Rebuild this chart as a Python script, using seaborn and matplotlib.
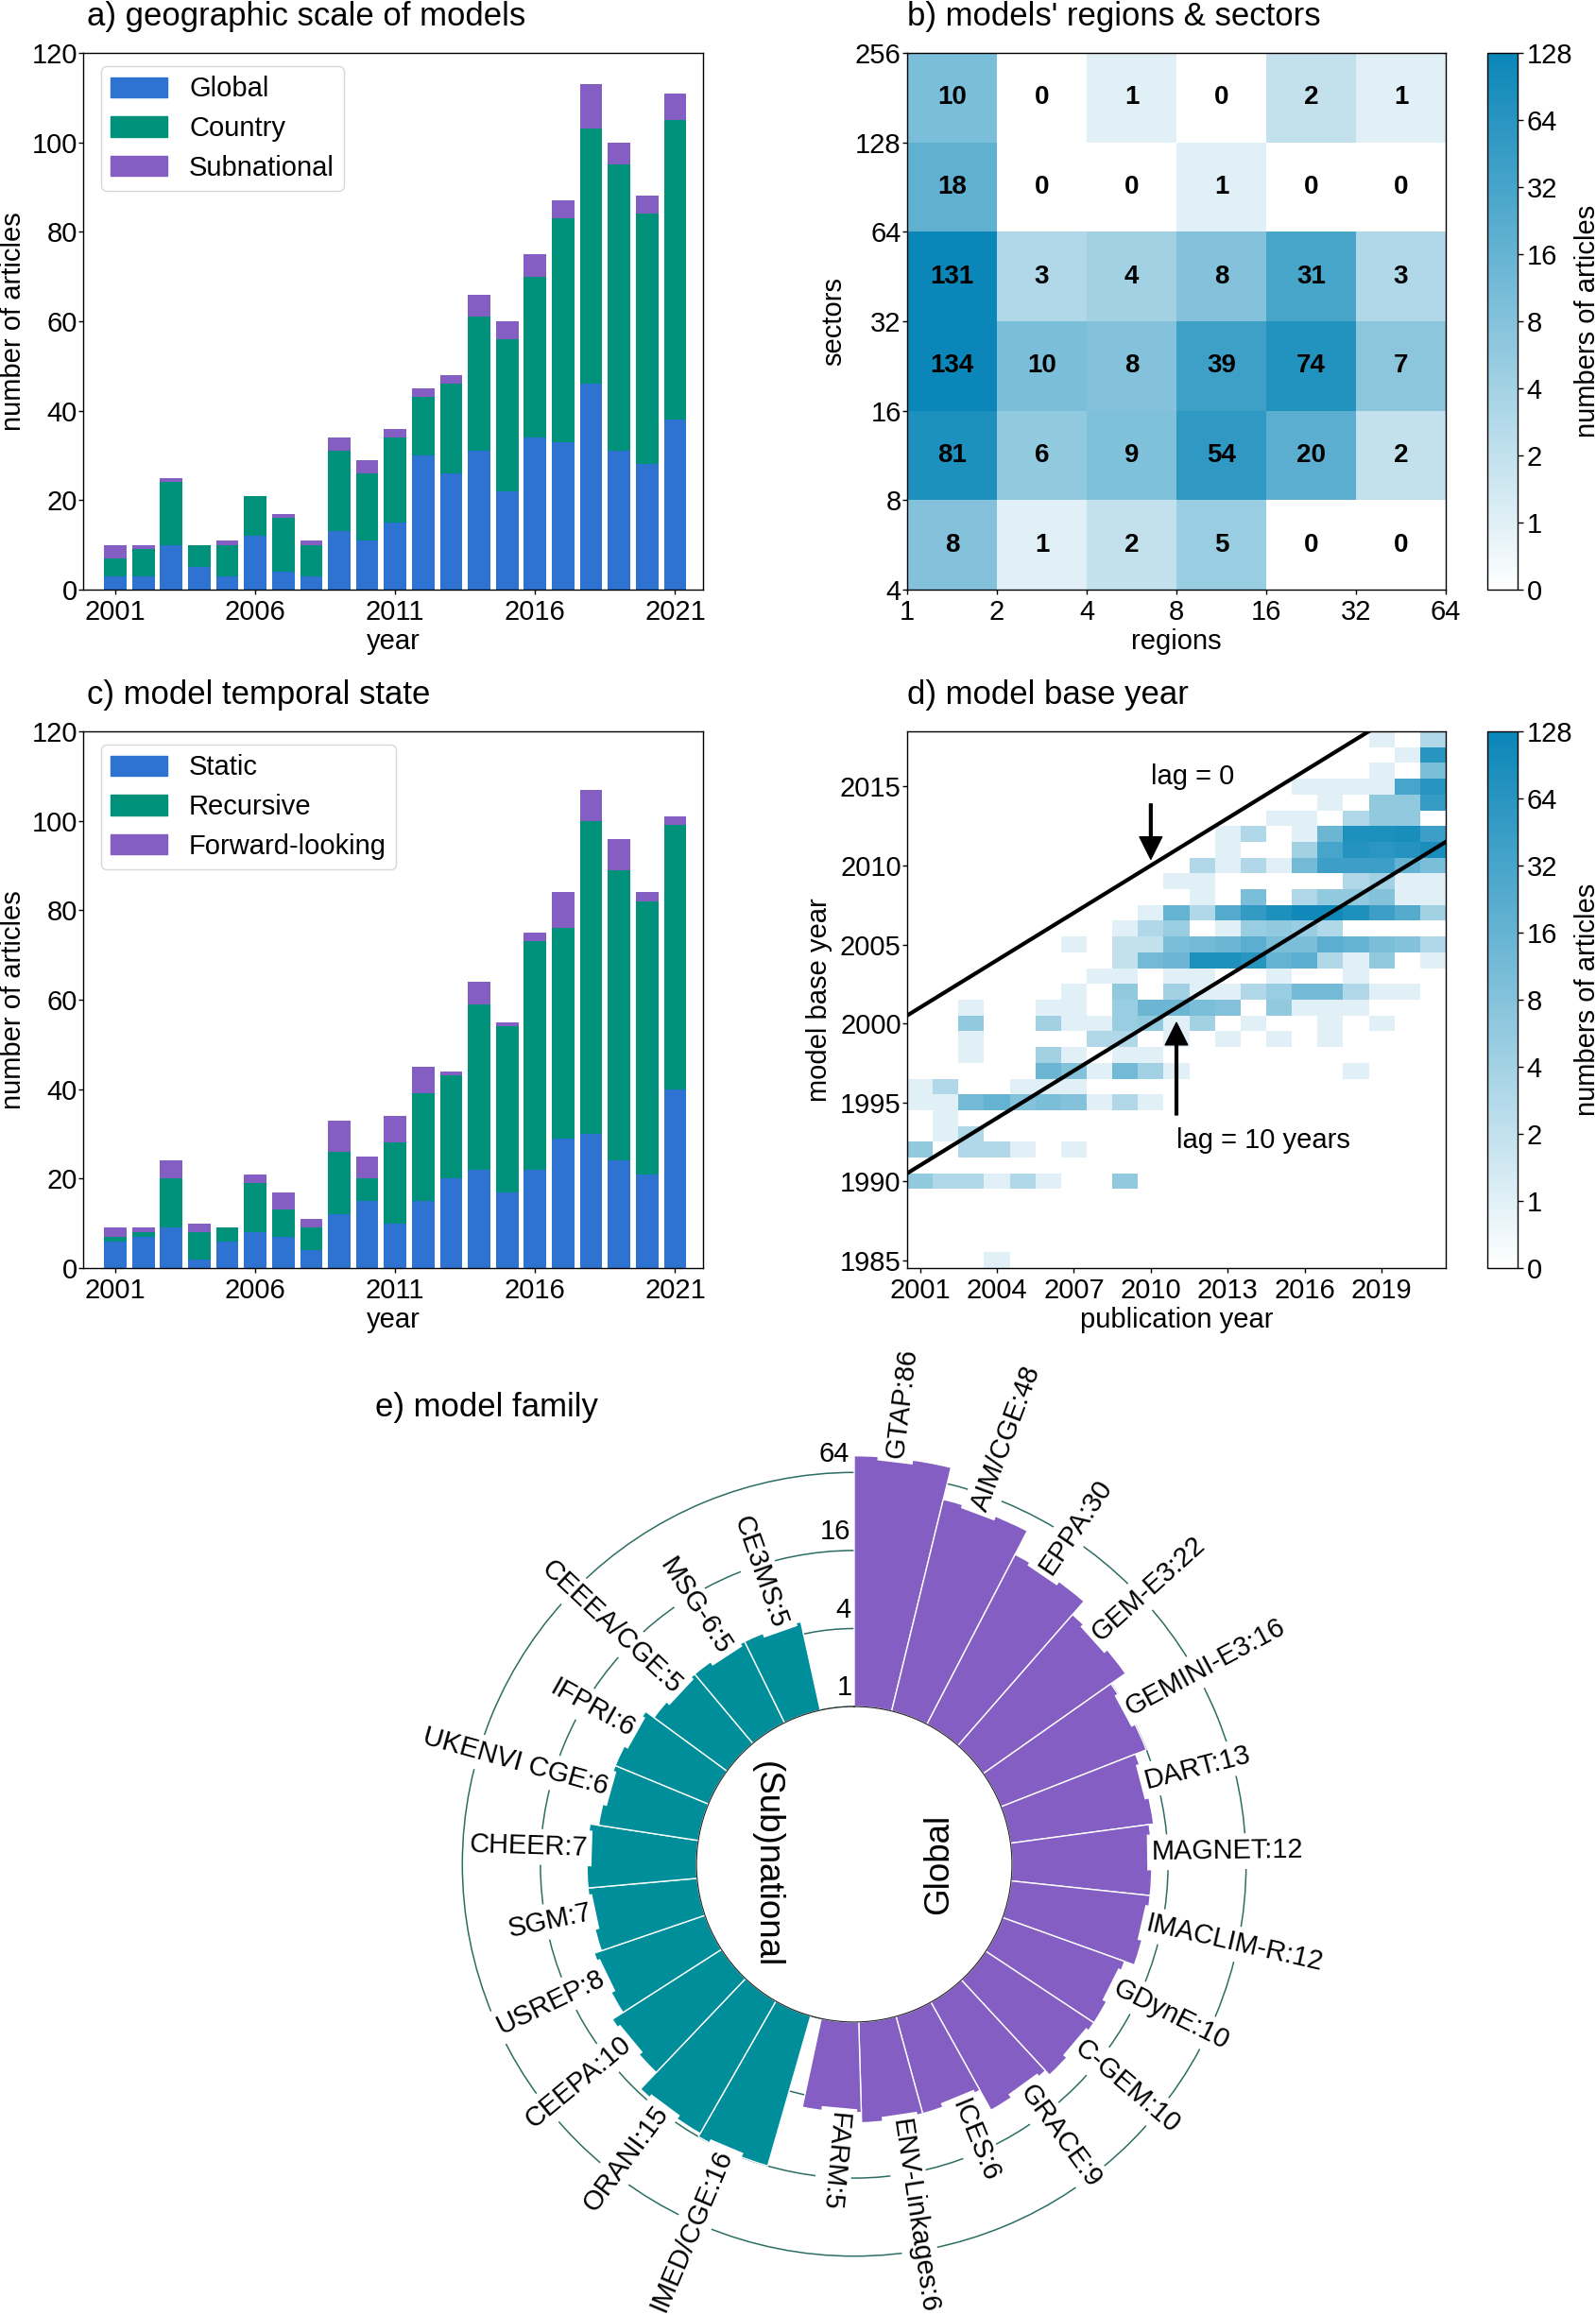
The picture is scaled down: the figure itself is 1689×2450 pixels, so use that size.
import numpy as np
import pandas as pd
import matplotlib
matplotlib.use("Agg")
import matplotlib.pyplot as plt
from matplotlib.colors import LinearSegmentedColormap, SymLogNorm
from matplotlib.patches import Patch
import seaborn as sns

sns.set_style("ticks")
plt.rcParams["font.family"] = ["Liberation Sans", "DejaVu Sans"]
plt.rcParams["font.size"] = 21
plt.rcParams["text.color"] = "black"
plt.rcParams["axes.labelcolor"] = "black"
plt.rcParams["xtick.color"] = "black"
plt.rcParams["ytick.color"] = "black"

W, H = 1689, 2450

# Panels a and c
years = list(range(2001, 2022))
geo_global = [3, 3, 10, 5, 3, 12, 4, 3, 13, 11, 15, 30, 26, 31, 22, 34, 33, 46, 31, 28, 38]
geo_country = [4, 6, 14, 5, 7, 9, 12, 7, 18, 15, 19, 13, 20, 30, 34, 36, 50, 57, 64, 56, 67]
geo_subnational = [3, 1, 1, 0, 1, 0, 1, 1, 3, 3, 2, 2, 2, 5, 4, 5, 4, 10, 5, 4, 6]
temp_static = [6, 7, 9, 2, 6, 8, 7, 4, 12, 15, 10, 15, 20, 22, 17, 22, 29, 30, 24, 21, 40]
temp_recursive = [1, 1, 11, 6, 3, 11, 6, 5, 14, 5, 18, 24, 23, 37, 37, 51, 47, 70, 65, 61, 59]
temp_forward = [2, 1, 4, 2, 0, 2, 4, 2, 7, 5, 6, 6, 1, 5, 1, 2, 8, 7, 7, 2, 2]

# Panel b, rows from the top (256 sectors) down
region_labels = ["1", "2", "4", "8", "16", "32", "64"]
sector_labels = ["256", "128", "64", "32", "16", "8", "4"]
region_sector = [
    [10, 0, 1, 0, 2, 1],
    [18, 0, 0, 1, 0, 0],
    [131, 3, 4, 8, 31, 3],
    [134, 10, 8, 39, 74, 7],
    [81, 6, 9, 54, 20, 2],
    [8, 1, 2, 5, 0, 0],
]

# Panel d: base year -> {publication year column: articles}, empty rows left out
base_year_cells = {
    2018: {18: 1, 20: 3},
    2017: {19: 1, 20: 64},
    2016: {18: 1, 20: 10},
    2015: {15: 1, 16: 1, 17: 1, 18: 1, 19: 32, 20: 64},
    2014: {16: 1, 18: 6, 19: 6, 20: 48},
    2013: {14: 1, 15: 1, 17: 3, 18: 6, 19: 6},
    2012: {12: 1, 13: 3, 15: 1, 16: 14, 17: 80, 18: 80, 19: 90, 20: 40},
    2011: {12: 1, 15: 4, 16: 32, 17: 70, 18: 60, 19: 70, 20: 90},
    2010: {11: 3, 12: 1, 13: 3, 14: 1, 15: 12, 16: 40, 17: 40, 18: 40, 19: 16, 20: 10},
    2009: {10: 1, 11: 1, 17: 3, 18: 4, 19: 1, 20: 1},
    2008: {11: 1, 13: 10, 15: 3, 16: 6, 17: 6, 18: 8, 19: 1, 20: 1},
    2007: {9: 1, 10: 16, 11: 3, 12: 24, 13: 50, 14: 80, 15: 110, 16: 110, 17: 80, 18: 40, 19: 24, 20: 4},
    2006: {8: 1, 9: 3, 10: 5, 12: 1, 13: 5, 14: 6, 15: 5, 16: 3},
    2005: {6: 1, 8: 2, 9: 2, 10: 10, 11: 12, 12: 14, 13: 20, 14: 10, 15: 10, 16: 20, 17: 16, 18: 10, 19: 8, 20: 3},
    2004: {8: 2, 9: 12, 10: 14, 11: 80, 12: 80, 13: 64, 14: 16, 15: 20, 16: 3, 17: 1, 18: 6, 20: 1},
    2003: {7: 1, 8: 1, 10: 1, 11: 1, 14: 1, 17: 1},
    2002: {6: 1, 8: 6, 10: 4, 11: 1, 12: 1, 13: 3, 14: 5, 15: 12, 16: 12, 17: 3, 18: 1, 19: 1},
    2001: {2: 1, 5: 1, 6: 1, 8: 5, 9: 14, 10: 14, 11: 10, 12: 8, 14: 6, 15: 1, 16: 1, 17: 1},
    2000: {2: 6, 5: 4, 6: 1, 7: 1, 8: 5, 9: 6, 10: 1, 11: 4, 13: 1, 16: 1, 18: 1},
    1999: {2: 1, 7: 3, 8: 3, 10: 1, 12: 1, 14: 1, 16: 1},
    1998: {2: 1, 5: 4, 6: 1, 8: 1, 9: 1},
    1997: {5: 14, 6: 8, 7: 1, 8: 12, 9: 4, 10: 1, 17: 1},
    1996: {0: 1, 1: 3, 4: 1, 5: 1, 6: 1},
    1995: {0: 1, 1: 1, 2: 12, 3: 16, 4: 8, 5: 10, 6: 8, 7: 1, 8: 3, 9: 1},
    1994: {1: 1},
    1993: {1: 1, 2: 3},
    1992: {0: 6, 2: 3, 3: 3, 4: 1, 6: 1},
    1990: {0: 6, 1: 3, 2: 3, 3: 1, 4: 3, 5: 1, 8: 6},
    1985: {3: 1},
}
base_years = list(range(2018, 1984, -1))

# Panel e
global_models = ["GTAP", "AIM/CGE", "EPPA", "GEM-E3", "GEMINI-E3", "DART", "MAGNET", "IMACLIM-R",
                 "GDynE", "C-GEM", "GRACE", "ICES", "ENV-Linkages", "FARM"]
global_counts = [86, 48, 30, 22, 16, 13, 12, 12, 10, 10, 9, 6, 6, 5]
national_models = ["IMED/CGE", "ORANI", "CEEPA", "USREP", "SGM", "CHEER", "UKENVI CGE", "IFPRI",
                   "CEEEA/CGE", "MSG-6", "CE3MS"]
national_counts = [16, 15, 10, 8, 7, 7, 6, 6, 5, 5, 5]
ring_values = [1, 4, 16, 64]

BLUE = "#2e72d2"
GREEN = "#00917a"
PURPLE = "#845ec2"
TEAL = "#008e9b"
RING = "#2c6e63"
cbar_values = [0, 1, 2, 4, 8, 16, 32, 64, 128]
heat_cmap = LinearSegmentedColormap.from_list("articles", ["#ffffff", "#0a86b8"])
heat_norm = SymLogNorm(linthresh=1, linscale=0.5, base=2, vmin=0, vmax=128)


def px_axes(fig, left, right, top, bottom, **kwargs):
    return fig.add_axes([left / W, 1 - bottom / H, (right - left) / W, (bottom - top) / H], **kwargs)


def frame(ax):
    for spine in ax.spines.values():
        spine.set_visible(True)
        spine.set_color("black")
        spine.set_linewidth(1.0)
    ax.tick_params(axis="x", length=3.5, width=1, labelsize=21, pad=4)
    ax.tick_params(axis="y", length=3.5, width=1, labelsize=21, pad=1)


def stacked_bars(ax, series, labels, title):
    bottom = np.zeros(len(years))
    handles = []
    for values, color, label in zip(series, [BLUE, GREEN, PURPLE], labels):
        sns.barplot(x=years, y=values, color=color, saturation=1, width=0.8, bottom=bottom,
                    linewidth=0, ax=ax)
        bottom = bottom + np.array(values)
        handles.append(Patch(color=color, label=label))
    ax.set_xlim(-1.15, 21.0)
    ax.set_ylim(0, 120)
    ax.set_xticks(range(0, 21, 5), [str(y) for y in years[::5]])
    ax.set_yticks(range(0, 121, 20))
    ax.set_xlabel("year", fontsize=21, labelpad=2)
    ax.set_ylabel("number of articles", fontsize=21, labelpad=4)
    ax.set_title(title, loc="left", fontsize=25, pad=21, x=0.006)
    ax.legend(handles=handles, loc="upper left", fontsize=21, handlelength=2.05, handleheight=0.75,
              handletextpad=0.8, labelspacing=0.47, borderpad=0.35, bbox_to_anchor=(0.0286, 0.975),
              borderaxespad=0, fancybox=True, framealpha=0.8)
    frame(ax)


def style_colorbar(ax):
    cbar = ax.collections[0].colorbar
    cbar.set_ticks(cbar_values, labels=[str(v) for v in cbar_values])
    cbar.ax.minorticks_off()
    cbar.ax.tick_params(length=4, width=1, labelsize=21, pad=3)
    cbar.set_label("numbers of articles", fontsize=21, labelpad=1)
    cbar.outline.set_edgecolor("black")
    cbar.outline.set_linewidth(1.0)


fig = plt.figure(figsize=(W / 100, H / 100), dpi=100)

# a) geographic scale
ax_a = px_axes(fig, 88, 744, 56, 624)
stacked_bars(ax_a, [geo_global, geo_country, geo_subnational], ["Global", "Country", "Subnational"],
             "a) geographic scale of models")

# c) temporal state
ax_c = px_axes(fig, 88, 744, 774, 1342)
stacked_bars(ax_c, [temp_static, temp_recursive, temp_forward], ["Static", "Recursive", "Forward-looking"],
             "c) model temporal state")

# b) regions and sectors
ax_b = px_axes(fig, 960, 1530, 56, 624)
cax_b = px_axes(fig, 1574, 1606, 56, 624)
sns.heatmap(pd.DataFrame(region_sector), cmap=heat_cmap, norm=heat_norm, annot=True, fmt="d",
            annot_kws={"color": "black", "fontweight": "bold", "fontsize": 20},
            cbar_ax=cax_b, xticklabels=False, yticklabels=False, ax=ax_b)
ax_b.set_xticks(range(7), region_labels, rotation=0)
ax_b.set_yticks(range(7), sector_labels, rotation=0)
ax_b.set_xlabel("regions", fontsize=21, labelpad=2)
ax_b.set_ylabel("sectors", fontsize=21, labelpad=6)
ax_b.set_title("b) models' regions & sectors", loc="left", fontsize=25, pad=21)
frame(ax_b)
style_colorbar(ax_b)

# d) base year against publication year
base_df = pd.DataFrame(0, index=base_years, columns=years)
for base, cells in base_year_cells.items():
    for col, count in cells.items():
        base_df.iloc[base_years.index(base), col] = count

ax_d = px_axes(fig, 960, 1530, 774, 1342)
cax_d = px_axes(fig, 1574, 1606, 774, 1342)
sns.heatmap(base_df, cmap=heat_cmap, norm=heat_norm, cbar_ax=cax_d, xticklabels=False,
            yticklabels=False, ax=ax_d)


def to_x(year):
    return year - years[0] + 0.5


def to_y(year):
    return base_years[0] - year + 0.5


ax_d.set_xticks([to_x(y) for y in years[:-2:3]], [str(y) for y in years[:-2:3]], rotation=0)
tick_bases = list(range(1985, 2016, 5))
ax_d.set_yticks([to_y(y) for y in tick_bases], [str(y) for y in tick_bases], rotation=0)
ax_d.set_xlabel("publication year", fontsize=21, labelpad=2)
ax_d.set_ylabel("model base year", fontsize=21, labelpad=6)
ax_d.set_title("d) model base year", loc="left", fontsize=25, pad=21)
for lag in [0, 10]:
    line_years = np.array([2000, 2022])
    ax_d.plot(to_x(line_years), to_y(line_years - lag), color="black", lw=3.0)
arrow_style = dict(facecolor="black", edgecolor="black", width=2, headwidth=17, headlength=17, shrink=0)
ax_d.annotate("", xy=(to_x(2010), to_y(2010.4)), xytext=(to_x(2010), to_y(2013.9)), arrowprops=arrow_style)
ax_d.annotate("", xy=(to_x(2011), to_y(2000.05)), xytext=(to_x(2011), to_y(1994.2)), arrowprops=arrow_style)
ax_d.text(to_x(2010), to_y(2015.6), "lag = 0", fontsize=21, ha="left", va="center")
ax_d.text(to_x(2011), to_y(1992.6), "lag = 10 years", fontsize=21, ha="left", va="center")
frame(ax_d)
style_colorbar(ax_d)

# e) model family, polar bars on a base-2 radial scale
ax_e = px_axes(fig, 448, 1360, 1517, 2429, projection="polar")
ax_e.set_theta_zero_location("N")
ax_e.set_theta_direction(-1)
ax_e.set_rscale("log", base=2)
ax_e.set_ylim(1, 128)
ax_e.set_rorigin(0.0607)
ax_e.set_axisbelow(True)

global_width = np.radians(13.72)
national_width = np.radians(13.78)
global_theta = (np.arange(len(global_counts)) + 0.5) * global_width
national_theta = np.radians(196.0) + (np.arange(len(national_counts)) + 0.5) * national_width

ax_e.bar(global_theta, np.array(global_counts) - 1, width=global_width, bottom=1, color=PURPLE,
         edgecolor="white", linewidth=1)
ax_e.bar(national_theta, np.array(national_counts) - 1, width=national_width, bottom=1, color=TEAL,
         edgecolor="white", linewidth=1)

label_box = dict(facecolor="white", edgecolor="none", pad=3.5)
for name, count, theta in zip(global_models, global_counts, global_theta):
    ax_e.text(theta, count, f"{name}:{count}", fontsize=20.8, rotation=90 - np.degrees(theta),
              rotation_mode="anchor", ha="left", va="baseline", bbox=label_box, zorder=5)
for name, count, theta in zip(national_models, national_counts, national_theta):
    ax_e.text(theta, count, f"{name}:{count}", fontsize=20.8, rotation=270 - np.degrees(theta),
              rotation_mode="anchor", ha="right", va="baseline", bbox=label_box, zorder=5)

ax_e.set_xticks([])
ax_e.set_yticks(ring_values, [])
ax_e.minorticks_off()
ax_e.grid(False, axis="x")
ax_e.grid(True, axis="y", color=RING, linewidth=1.1, linestyle="-")
ax_e.spines["polar"].set_visible(False)
for value in ring_values:
    ax_e.text(np.radians(-0.7), value * 1.1, str(value), fontsize=21, ha="right", va="bottom", zorder=6)

ax_e.text(0.598, 0.5, "Global", transform=ax_e.transAxes, fontsize=26.5, rotation=90,
          ha="center", va="center")
ax_e.text(0.398, 0.5, "(Sub)national", transform=ax_e.transAxes, fontsize=26.5, rotation=270,
          ha="center", va="center")
fig.text(397 / W, 1 - 1490 / H, "e) model family", fontsize=25, ha="left", va="center")

fig.savefig("out.png", dpi=100)
